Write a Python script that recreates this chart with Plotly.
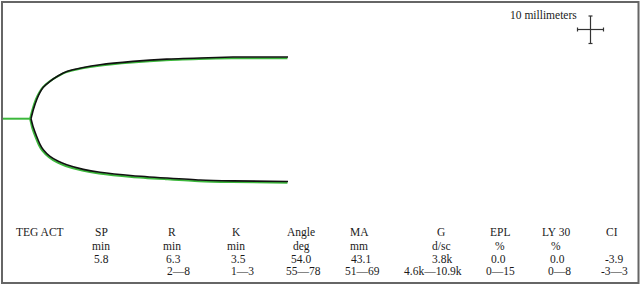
import plotly.graph_objects as go

# ---- data ----
time_min = [6.3, 6.82, 7.58, 8.33, 9.07, 10.58, 12.44, 14.33, 18.07, 21.83, 29.25, 36.83, 44.33, 51.75, 64.13]
upper_mm = [0, 3.1, 6.6, 9.1, 10.9, 13.0, 14.9, 16.4, 17.8, 18.75, 19.9, 20.7, 21.1, 21.4, 21.4]
lower_mm = [0, -3.0, -6.2, -8.9, -10.8, -13.1, -14.8, -16.0, -17.6, -18.6, -19.8, -20.6, -21.3, -21.6, -21.8]
baseline_time_min = [0, 6.2]
baseline_mm = [0, 0]
green_time_min = [6.1, 6.6, 7.35, 8.1, 8.85, 10.35, 12.2, 14.1, 17.85, 21.6, 29.0, 36.6, 44.1, 51.5, 64.0]
green_upper_mm = [0, 3.0, 6.5, 8.9, 10.7, 12.8, 14.6, 16.1, 17.5, 18.4, 19.5, 20.3, 20.7, 21.0, 21.0]
green_lower_mm = [0, -3.3, -6.5, -9.2, -11.1, -13.4, -15.2, -16.4, -18.0, -19.0, -20.2, -21.0, -21.7, -22.0, -22.2]

row_label = "TEG ACT"
params = ["SP", "R", "K", "Angle", "MA", "G", "EPL", "LY 30", "CI"]
units = ["min", "min", "min", "deg", "mm", "d/sc", "%", "%", ""]
values = ["5.8", "6.3", "3.5", "54.0", "43.1", "3.8k", "0.0", "0.0", "-3.9"]
ranges = ["", "2\u20148", "1\u20143", "55\u201478", "51\u201469", "4.6k\u201410.9k", "0\u201415", "0\u20148", "-3\u20143"]
scale_label = "10 millimeters"

# ---- layout helpers (pixels) ----
W, H = 640, 285
PX_PER_MIN = 28 / 6.3
PX_PER_MM = 2.88
X0 = 3
YC = 118.7

col_x = [101, 172, 236, 301, 359, 441, 500, 556, 612]
val_x = [101, 173, 238, 301, 361, 442, 498, 557, 614]
rng_x = [101, 178, 242, 303, 362, 433, 500, 559, 614]
row_y = [232.4, 246.2, 258.6, 270.8]

fig = go.Figure()
green = "#3cb83c"
black = "#111111"
fig.add_trace(go.Scatter(x=baseline_time_min, y=baseline_mm, mode="lines",
                         line=dict(color=green, width=2), hoverinfo="skip", showlegend=False))
for y in (green_upper_mm, green_lower_mm):
    fig.add_trace(go.Scatter(x=green_time_min, y=y, mode="lines",
                             line=dict(color=green, width=2, shape="spline", smoothing=0.6),
                             hoverinfo="skip", showlegend=False))
for y in (upper_mm, lower_mm):
    fig.add_trace(go.Scatter(x=time_min, y=y, mode="lines",
                             line=dict(color=black, width=1.6, shape="spline", smoothing=0.6),
                             hoverinfo="skip", showlegend=False))

xr = [(-X0) / PX_PER_MIN, (W - X0) / PX_PER_MIN]
yr = [-(H - YC) / PX_PER_MM, YC / PX_PER_MM]

font = dict(family="Liberation Serif, Times New Roman, serif", size=11.5, color="#1a1a1a")

def px(x):
    return x / W

def py(y):
    return 1 - y / H

ann = []
ann.append(dict(x=px(40), y=py(row_y[0]), text=row_label))
for i, p in enumerate(params):
    ann.append(dict(x=px(col_x[i]), y=py(row_y[0]), text=p))
    if units[i]:
        ann.append(dict(x=px(col_x[i]), y=py(row_y[1]), text=units[i]))
    ann.append(dict(x=px(val_x[i]), y=py(row_y[2]), text=values[i]))
    if ranges[i]:
        ann.append(dict(x=px(rng_x[i]), y=py(row_y[3]), text=ranges[i]))
ann.append(dict(x=px(543), y=py(15.5), text=scale_label))
annotations = [dict(a, xref="paper", yref="paper", showarrow=False, xanchor="center",
                    yanchor="middle", font=font, borderpad=0) for a in ann]

shapes = [dict(type="rect", xref="paper", yref="paper", x0=px(2), x1=px(638.5), y0=py(283), y1=py(2),
               line=dict(color="#666", width=2))]
cx, cy = 590.5, 29.5
sc = dict(color="#333", width=1.2)
segs = [(cx, 16, cx, 43.5), (577.5, cy, 603.5, cy),
        (cx - 2, 16, cx + 2, 16), (cx - 2, 43.5, cx + 2, 43.5),
        (577.5, cy - 2, 577.5, cy + 2), (603.5, cy - 2, 603.5, cy + 2)]
for x0, y0, x1, y1 in segs:
    shapes.append(dict(type="line", xref="paper", yref="paper", x0=px(x0), y0=py(y0),
                       x1=px(x1), y1=py(y1), line=sc))

fig.update_layout(
    width=W, height=H, margin=dict(l=0, r=0, t=0, b=0),
    paper_bgcolor="white", plot_bgcolor="white",
    xaxis=dict(range=xr, visible=False, fixedrange=True),
    yaxis=dict(range=yr, visible=False, fixedrange=True),
    annotations=annotations, shapes=shapes,
)
fig.write_html("out.html", config={"displayModeBar": False},
               post_script="document.body.style.margin='0';document.body.style.overflow='hidden';")
